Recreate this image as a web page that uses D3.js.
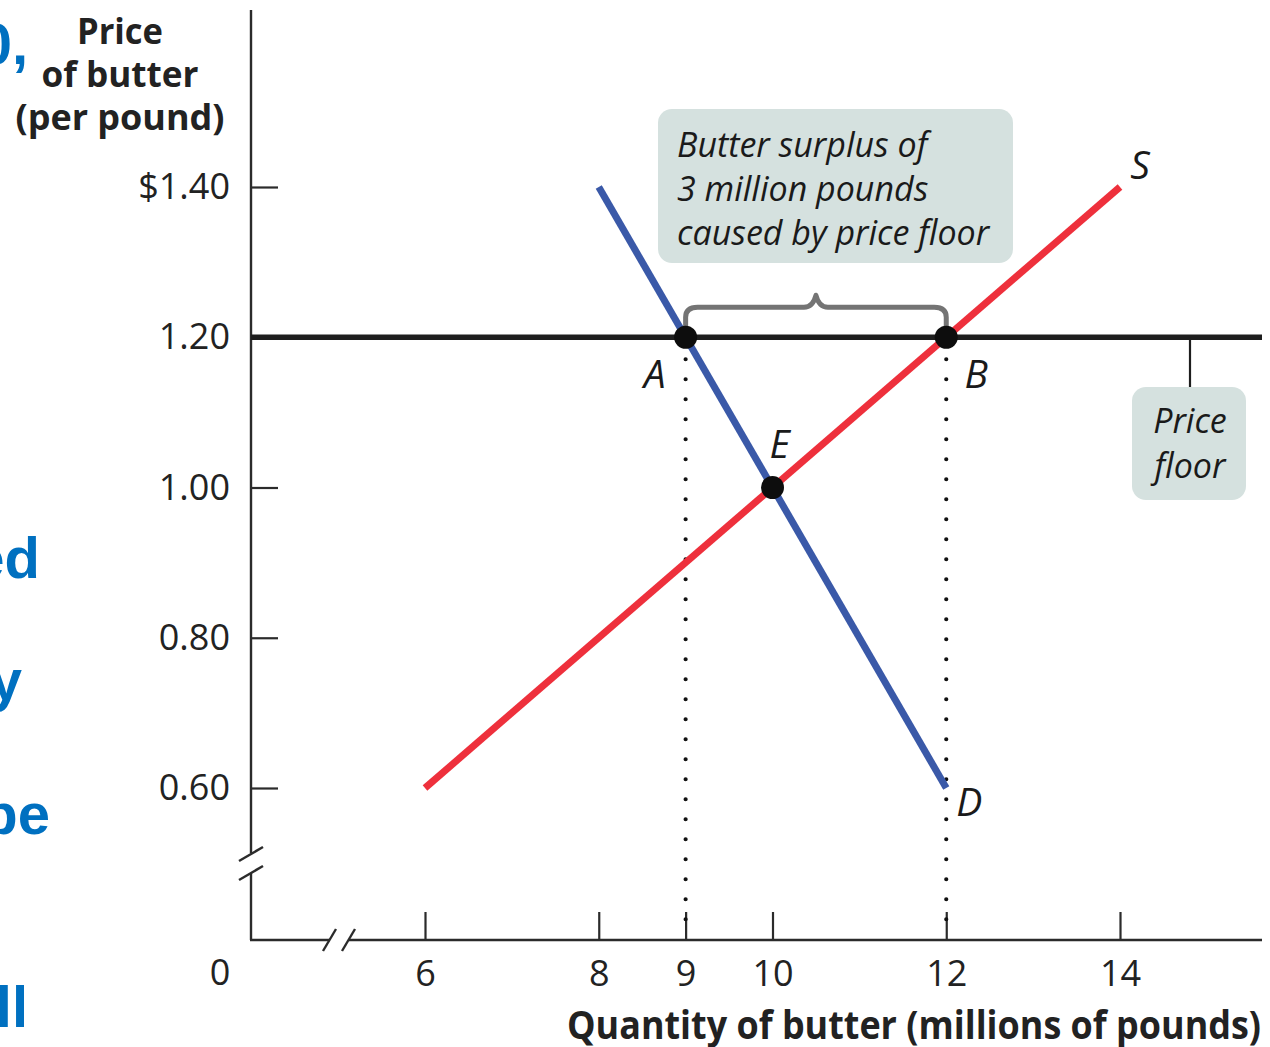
<!DOCTYPE html>
<html>
<head>
<meta charset="utf-8">
<script src="https://cdn.jsdelivr.net/npm/d3@7"></script>
<style>
  html, body { margin: 0; padding: 0; background: #fff; }
  svg { display: block; }
</style>
</head>
<body>
<svg id="chart" width="1270" height="1047"></svg>
<script>
// Supply and demand for butter with a price floor
const supplyQty = [6, 14];
const supplyPrice = [0.60, 1.40];
const demandQty = [8, 12];
const demandPrice = [1.40, 0.60];
const floorPrice = 1.20;
const pointNames = ["A", "B", "E"];
const pointQty = [9, 12, 10];
const pointPrice = [1.20, 1.20, 1.00];
const xTicks = [6, 8, 9, 10, 12, 14];
const yTicks = [0.60, 0.80, 1.00, 1.20, 1.40];
const yTickLabels = ["0.60", "0.80", "1.00", "1.20", "$1.40"];
const yTitle = ["Price", "of butter", "(per pound)"];
const xTitle = "Quantity of butter (millions of pounds)";
const surplusNote = ["Butter surplus of", "3 million pounds", "caused by price floor"];
const floorNote = ["Price", "floor"];
const sideText = ["0,", "ed", "y", "be", "ll"];

const svg = d3.select("#chart");
const x = d3.scaleLinear().domain([6, 14]).range([425, 1120]);
const y = d3.scaleLinear().domain([0.60, 1.40]).range([788, 187]);

const axisColor = "#2b2b2b";
const sans = "'Open Sans', 'DejaVu Sans', sans-serif";

// Fragments of slide text at the left edge
const sideX = [28, 40, 22, 50, 28];
const sideY = [64, 578, 700, 834, 1027];
svg.append("g").selectAll("text").data(sideText).join("text")
  .attr("x", (d, i) => sideX[i]).attr("y", (d, i) => sideY[i])
  .attr("text-anchor", "end")
  .attr("font-family", "'Liberation Sans', Arial, sans-serif")
  .attr("font-weight", "bold").attr("font-size", 58)
  .attr("fill", "#0070c0").text(d => d);

// Axis lines with break marks
const axes = svg.append("g").attr("stroke", axisColor).attr("stroke-width", 2.4).attr("fill", "none");
axes.append("line").attr("x1", 251).attr("y1", 10).attr("x2", 251).attr("y2", 853);
axes.append("line").attr("x1", 251).attr("y1", 873).attr("x2", 251).attr("y2", 940);
axes.append("line").attr("x1", 239).attr("y1", 861).attr("x2", 263).attr("y2", 847);
axes.append("line").attr("x1", 239).attr("y1", 880).attr("x2", 263).attr("y2", 866);
axes.append("line").attr("x1", 250).attr("y1", 940).attr("x2", 330).attr("y2", 940);
axes.append("line").attr("x1", 349).attr("y1", 940).attr("x2", 1262).attr("y2", 940);
axes.append("line").attr("x1", 323).attr("y1", 951).attr("x2", 336).attr("y2", 929);
axes.append("line").attr("x1", 342).attr("y1", 951).attr("x2", 355).attr("y2", 929);

// x axis ticks pointing up
const xAxis = d3.axisBottom(x).tickValues(xTicks).tickFormat(d3.format("d"))
  .tickSizeInner(-28).tickSizeOuter(0).tickPadding(20);
const gx = svg.append("g").attr("transform", "translate(0,940)").call(xAxis);
gx.select(".domain").remove();
gx.selectAll(".tick line").attr("stroke", axisColor).attr("stroke-width", 2.2);
gx.selectAll(".tick text").attr("font-family", sans).attr("font-size", 36).attr("fill", "#222");

// y axis ticks pointing right
const yAxis = d3.axisLeft(y).tickValues(yTicks).tickFormat((d, i) => yTickLabels[i])
  .tickSizeInner(-27).tickSizeOuter(0).tickPadding(21);
const gy = svg.append("g").attr("transform", "translate(251,0)").call(yAxis);
gy.select(".domain").remove();
gy.selectAll(".tick line").attr("stroke", axisColor).attr("stroke-width", 2.2);
gy.selectAll(".tick text").attr("font-family", sans).attr("font-size", 36).attr("fill", "#222");

// origin label
svg.append("text").attr("x", 220).attr("y", 985).attr("text-anchor", "middle")
  .attr("font-family", sans).attr("font-size", 36).attr("fill", "#222").text("0");

// axis titles
svg.append("g").selectAll("text").data(yTitle).join("text")
  .attr("x", 120).attr("y", (d, i) => 44 + i * 43)
  .attr("text-anchor", "middle").attr("font-family", sans)
  .attr("font-weight", "bold").attr("font-size", 35).attr("fill", "#222")
  .attr("textLength", (d, i) => [86, 157, 209][i]).attr("lengthAdjust", "spacingAndGlyphs")
  .text(d => d);
svg.append("text").attr("x", 567).attr("y", 1039)
  .attr("font-family", sans).attr("font-weight", "bold").attr("font-size", 39).attr("fill", "#222")
  .attr("textLength", 694).attr("lengthAdjust", "spacingAndGlyphs").text(xTitle);

// dotted drops from A and B to the quantity axis
svg.append("g").selectAll("line").data([0, 1]).join("line")
  .attr("x1", i => x(pointQty[i])).attr("x2", i => x(pointQty[i]))
  .attr("y1", y(floorPrice) + 22).attr("y2", 935)
  .attr("stroke", "#111").attr("stroke-width", 4.2)
  .attr("stroke-linecap", "round").attr("stroke-dasharray", "0 20");

// price floor line
svg.append("line").attr("x1", 251).attr("x2", 1262)
  .attr("y1", y(floorPrice)).attr("y2", y(floorPrice))
  .attr("stroke", "#1e1e1e").attr("stroke-width", 5.5);

// callout stem and label for the price floor
svg.append("line").attr("x1", 1190).attr("x2", 1190)
  .attr("y1", y(floorPrice)).attr("y2", 388)
  .attr("stroke", "#1e1e1e").attr("stroke-width", 2.2);
svg.append("rect").attr("x", 1132).attr("y", 387).attr("width", 114).attr("height", 113)
  .attr("rx", 14).attr("fill", "#d5e1df");
svg.append("g").selectAll("text").data(floorNote).join("text")
  .attr("x", 1190).attr("y", (d, i) => 433 + i * 45)
  .attr("text-anchor", "middle").attr("font-family", sans).attr("font-style", "italic")
  .attr("font-size", 34).attr("fill", "#1a1a1a").text(d => d);

// surplus brace between A and B
const bx0 = x(pointQty[0]), bx1 = x(pointQty[1]), by = y(floorPrice);
const bmid = (bx0 + bx1) / 2;
const brace = d3.path();
brace.moveTo(bx0, by - 4);
brace.lineTo(bx0, by - 20);
brace.quadraticCurveTo(bx0, by - 30, bx0 + 12, by - 30);
brace.lineTo(bmid - 12, by - 30);
brace.quadraticCurveTo(bmid - 3, by - 30, bmid, by - 42);
brace.quadraticCurveTo(bmid + 3, by - 30, bmid + 12, by - 30);
brace.lineTo(bx1 - 12, by - 30);
brace.quadraticCurveTo(bx1, by - 30, bx1, by - 20);
brace.lineTo(bx1, by - 4);
svg.append("path").attr("d", brace.toString()).attr("fill", "none")
  .attr("stroke", "#747474").attr("stroke-width", 5).attr("stroke-linejoin", "round");

// surplus note
svg.append("rect").attr("x", 658).attr("y", 109).attr("width", 355).attr("height", 154)
  .attr("rx", 14).attr("fill", "#d5e1df");
svg.append("g").selectAll("text").data(surplusNote).join("text")
  .attr("x", 677).attr("y", (d, i) => 157 + i * 44)
  .attr("font-family", sans).attr("font-style", "italic")
  .attr("font-size", 34).attr("fill", "#1a1a1a").text(d => d);

// supply and demand curves
const line = d3.line().x(d => x(d[0])).y(d => y(d[1]));
svg.append("path").datum(supplyQty.map((q, i) => [q, supplyPrice[i]]))
  .attr("d", line).attr("fill", "none").attr("stroke", "#ee303c").attr("stroke-width", 7);
svg.append("path").datum(demandQty.map((q, i) => [q, demandPrice[i]]))
  .attr("d", line).attr("fill", "none").attr("stroke", "#3a59a8").attr("stroke-width", 7);

// marked points
svg.append("g").selectAll("circle").data(pointNames).join("circle")
  .attr("cx", (d, i) => x(pointQty[i])).attr("cy", (d, i) => y(pointPrice[i]))
  .attr("r", 11.5).attr("fill", "#0d0d0d");

// curve and point labels
const labelText = ["A", "B", "E", "S", "D"];
const labelX = [x(9) - 31, x(12) + 30, x(10) + 7, x(14) + 20, x(12) + 23];
const labelY = [y(1.20) + 51, y(1.20) + 51, y(1.00) - 30, y(1.40) - 8, y(0.60) + 28];
svg.append("g").selectAll("text").data(labelText).join("text")
  .attr("x", (d, i) => labelX[i]).attr("y", (d, i) => labelY[i])
  .attr("text-anchor", "middle").attr("font-family", sans).attr("font-style", "italic")
  .attr("font-size", 39).attr("fill", "#1a1a1a").text(d => d);
</script>
</body>
</html>
